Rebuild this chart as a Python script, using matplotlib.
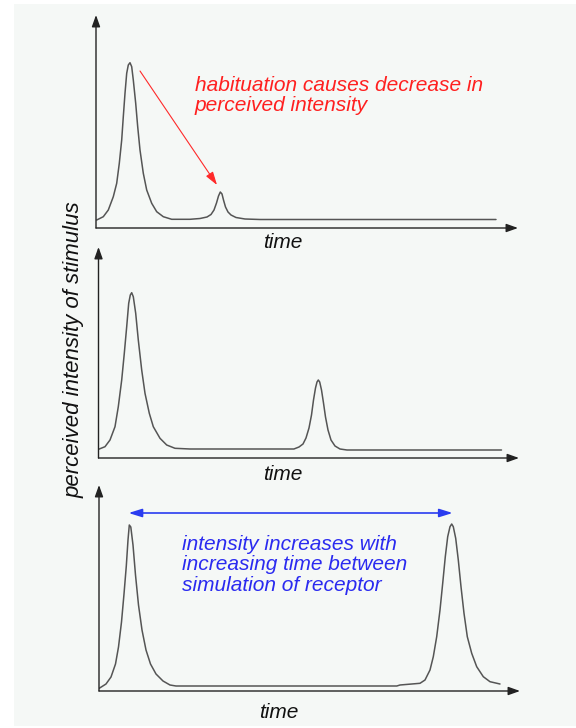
import matplotlib
matplotlib.use("Agg")
import matplotlib.pyplot as plt
from matplotlib.patches import Rectangle

# perceived intensity vs time (time, intensity units)
top_time = [0.07, 0.73, 1.23, 1.73, 2.07, 2.33, 2.57, 2.73, 2.9, 3.07, 3.23,
            3.4, 3.57, 3.73, 3.97, 4.17, 4.4, 4.73, 5.07, 5.57, 6.07, 6.73,
            7.57, 9.4, 10.4, 11.1, 11.5, 11.8, 12.05, 12.25, 12.43, 12.6,
            12.75, 12.95, 13.2, 13.5, 14.0, 14.9, 16.4, 40.0]
top_level = [0.8, 1.13, 1.8, 3.13, 4.47, 6.47, 8.8, 11.13, 13.47, 15.47, 16.3,
             16.53, 16.13, 14.8, 12.47, 10.13, 7.8, 5.47, 3.8, 2.47, 1.63,
             1.13, 0.87, 0.87, 0.95, 1.1, 1.35, 1.8, 2.5, 3.2, 3.6, 3.4,
             2.8, 2.1, 1.6, 1.3, 1.05, 0.9, 0.85, 0.85]

mid_time = [0.0, 0.65, 1.15, 1.65, 1.98, 2.32, 2.58, 2.82, 3.02, 3.18, 3.32,
            3.48, 3.72, 3.98, 4.32, 4.65, 5.08, 5.48, 6.15, 6.82, 7.65,
            9.15, 19.54, 20.05, 20.45, 20.75, 21.05, 21.3, 21.5, 21.7,
            21.85, 21.98, 22.12, 22.3, 22.5, 22.7, 22.95, 23.25, 23.65,
            24.15, 24.85, 40.3]
mid_level = [0.87, 1.13, 1.8, 3.13, 5.13, 7.8, 10.47, 13.13, 15.47, 16.3,
             16.53, 16.13, 14.47, 11.8, 8.8, 6.47, 4.47, 3.13, 1.97, 1.3,
             0.97, 0.9, 0.9, 1.1, 1.4, 2.0, 3.0, 4.3, 5.8, 7.0,
             7.6, 7.8, 7.6, 6.8, 5.5, 4.1, 2.8, 1.8, 1.2,
             0.9, 0.8, 0.8]

bot_time = [0.02, 0.7, 1.2, 1.65, 1.95, 2.25, 2.5, 2.73, 2.9, 3.03, 3.18,
            3.4, 3.65, 3.95, 4.3, 4.7, 5.15, 5.7, 6.4, 7.1, 7.7, 29.78,
            30.1, 32.1, 32.6, 33.1, 33.43, 33.77, 34.1, 34.37, 34.63, 34.87,
            35.1, 35.27, 35.43, 35.67, 35.93, 36.2, 36.5, 36.83, 37.27,
            37.77, 38.43, 39.1, 40.1]
bot_level = [0.27, 0.7, 1.4, 2.7, 4.4, 6.9, 9.7, 12.5, 15.1, 16.6, 16.4,
             14.6, 11.6, 8.6, 6.1, 4.1, 2.7, 1.7, 1.0, 0.6, 0.5, 0.5,
             0.6, 0.77, 1.1, 2.1, 3.43, 5.43, 8.1, 10.77, 13.43, 15.43,
             16.43, 16.7, 16.43, 15.27, 13.1, 10.43, 7.77, 5.43, 3.77,
             2.43, 1.43, 0.93, 0.7]

red_note = "habituation causes decrease in\nperceived intensity"
blue_note = "intensity increases with\nincreasing time between\nsimulation of receptor"
y_title = "perceived intensity of stimulus"
x_title = "time"

# arrow ends (time, intensity)
red_arrow = [(4.4, 15.7), (12.1, 4.3)]
blue_arrow = [(2.96, 17.8), (35.36, 17.8)]

W, H = 576, 728
# panel frames in pixels: left, right (arrow tip), origin y, top (arrow tip)
frames = [(96, 518, 228, 15), (98.5, 519, 458, 247), (99, 520, 691, 485)]
time_label_pos = [(18.7, -1.4), (18.45, -1.6), (18.0, -2.1)]

plt.rcParams['font.family'] = ['Liberation Sans', 'DejaVu Sans']

fig = plt.figure(figsize=(W / 100, H / 100), dpi=100, facecolor='white')
fig.patches.append(Rectangle((14 / W, 2 / H), 1 - 14 / W, 1 - 6 / H,
                             transform=fig.transFigure, facecolor='#f5f8f6',
                             edgecolor='none', zorder=-5))

curves = [(top_time, top_level), (mid_time, mid_level), (bot_time, bot_level)]
axes = []
for (left, right, y0, top), (t, v), (lx, ly) in zip(frames, curves,
                                                    time_label_pos):
    ax = fig.add_axes([left / W, 1 - y0 / H, (right - left) / W,
                       (y0 - top) / H])
    ax.set_xlim(0, (right - left) / 10)
    ax.set_ylim(0, (y0 - top) / 10)
    ax.patch.set_visible(False)
    for s in ax.spines.values():
        s.set_visible(False)
    ax.set_xticks([])
    ax.set_yticks([])
    ax.plot(t, v, color='#555555', lw=1.1, solid_joinstyle='round',
            solid_capstyle='round')

    # axis arrows
    arrow = dict(arrowstyle='-|>,head_length=0.7,head_width=0.25',
                 color='#222222', lw=1.0, shrinkA=0, shrinkB=0)
    ax.annotate('', xy=(1, 0), xytext=(0, 0), xycoords='axes fraction',
                arrowprops=arrow, annotation_clip=False)
    ax.annotate('', xy=(0, 1), xytext=(0, 0), xycoords='axes fraction',
                arrowprops=arrow, annotation_clip=False)
    ax.text(lx, ly, x_title, ha='center', va='center', fontsize=15,
            style='italic', color='#111111', clip_on=False)
    axes.append(ax)

ax1, ax2, ax3 = axes

ax1.annotate('', xy=red_arrow[1], xytext=red_arrow[0],
             arrowprops=dict(arrowstyle='-|>,head_length=0.8,head_width=0.25',
                             color='#ff2a2a', lw=0.8, shrinkA=0, shrinkB=0))
ax1.text(9.9, 15.2, red_note, ha='left', va='top', fontsize=15,
         style='italic', color='#ff2020', linespacing=1.08)

ax3.annotate('', xy=blue_arrow[1], xytext=blue_arrow[0],
             arrowprops=dict(arrowstyle='<|-|>,head_length=0.8,head_width=0.25',
                             color='#2a3cf0', lw=1.2, shrinkA=0, shrinkB=0))
ax3.text(8.27, 15.6, blue_note, ha='left', va='top', fontsize=15,
         style='italic', color='#2a2af0', linespacing=1.1)

fig.text(74 / W, 1 - 350 / H, y_title, rotation=90, ha='center', va='center',
         fontsize=16, style='italic', color='#111111')

fig.savefig('out.png', dpi=100, facecolor='white')
